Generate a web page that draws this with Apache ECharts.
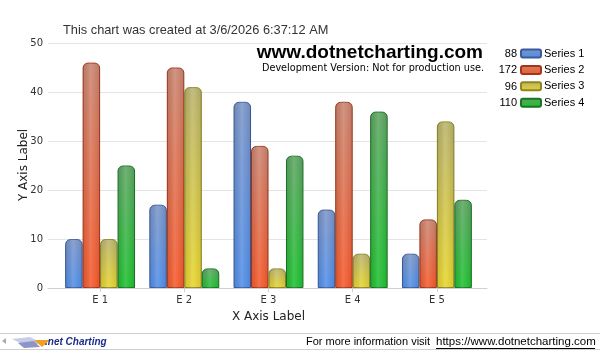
<!DOCTYPE html>
<html>
<head>
<meta charset="utf-8">
<script src="https://cdn.jsdelivr.net/npm/echarts@6/dist/echarts.min.js"></script>
<style>html,body{margin:0;padding:0;background:#fff}#c{width:600px;height:350px}</style>
</head>
<body>
<div id="c"></div>
<script>
var categories = ['E 1', 'E 2', 'E 3', 'E 4', 'E 5'];
var seriesNames = ['Series 1', 'Series 2', 'Series 3', 'Series 4'];
var series1 = [10, 17, 38, 16, 7];
var series2 = [46, 45, 29, 38, 14];
var series3 = [10, 41, 4, 7, 34];
var series4 = [25, 4, 27, 36, 18];
var yTicks = [0, 10, 20, 30, 40, 50];

var allData = [series1, series2, series3, series4];
var topColors = ['#7a94c6', '#c98470', '#b8b26c', '#5da462'];
var bottomColors = ['#4f8de8', '#f5582a', '#e6d42c', '#1cc02e'];
var borderColors = ['#3a5a9c', '#a3361a', '#8f8420', '#1b7424'];

function vgrad(i) {
  return new echarts.graphic.LinearGradient(0, 0, 0, 1, [
    {offset: 0, color: topColors[i]},
    {offset: 1, color: bottomColors[i]}
  ]);
}
var hgrad = new echarts.graphic.LinearGradient(0, 0, 1, 0, [
  {offset: 0, color: 'rgba(0,0,0,0.08)'},
  {offset: 0.45, color: 'rgba(255,255,255,0.14)'},
  {offset: 0.6, color: 'rgba(255,255,255,0.08)'},
  {offset: 1, color: 'rgba(0,0,0,0.08)'}
]);

var seriesList = [];
allData.forEach(function (d, i) {
  seriesList.push({
    name: seriesNames[i], type: 'bar', xAxisIndex: 1, yAxisIndex: 1, data: d,
    barGap: '0%', barCategoryGap: '17%',
    itemStyle: {color: vgrad(i), borderColor: borderColors[i], borderWidth: 1, borderRadius: [5, 5, 0, 0]},
    emphasis: {disabled: true}
  });
});
allData.forEach(function (d, i) {
  seriesList.push({
    name: seriesNames[i] + ' shade', type: 'bar', xAxisIndex: 2, yAxisIndex: 1, data: d,
    barGap: '0%', barCategoryGap: '17%', silent: true, z: 3,
    itemStyle: {color: hgrad, borderRadius: [5, 5, 0, 0]},
    emphasis: {disabled: true}
  });
});

var totals = allData.map(function (d) { return d.reduce(function (a, b) { return a + b; }, 0); });
var legendCenter0 = 54, legendPitch = 16.4;
var graphics = totals.map(function (t, i) {
  return {type: 'text', x: 517, y: legendCenter0 + i * legendPitch,
    style: {text: String(t), font: '11px "Liberation Sans", Arial', fill: '#000', align: 'right', verticalAlign: 'middle'}};
});
graphics.push(
  {type: 'text', x: 63, y: 30, style: {text: 'This chart was created at 3/6/2026 6:37:12 AM', font: '12.8px "Liberation Sans", Arial', fill: '#333', verticalAlign: 'middle'}},
  {type: 'text', x: 483, y: 53, style: {text: 'www.dotnetcharting.com', font: 'bold 19px "Liberation Sans", Arial', fill: '#000', align: 'right', verticalAlign: 'middle'}},
  {type: 'text', x: 484, y: 68.5, style: {text: 'Development Version: Not for production use.', font: '9.7px "DejaVu Sans"', fill: '#000', align: 'right', verticalAlign: 'middle'}},
  {type: 'text', x: 24, y: 165, rotation: Math.PI / 2, style: {text: 'Y Axis Label', font: '12px "DejaVu Sans"', fill: '#222', align: 'center', verticalAlign: 'middle'}},
  {type: 'line', shape: {x1: 0, y1: 333.5, x2: 600, y2: 333.5}, style: {stroke: '#cfcfcf', lineWidth: 1}},
  {type: 'line', shape: {x1: 0, y1: 349.5, x2: 600, y2: 349.5}, style: {stroke: '#cfcfcf', lineWidth: 1}},
  {type: 'polygon', shape: {points: [[2, 341], [6, 338], [6, 344]]}, style: {fill: '#aaa'}},
  {type: 'polygon', shape: {points: [[12, 339], [30, 337], [42, 343], [26, 346]]}, style: {fill: '#c8cce8'}},
  {type: 'polygon', shape: {points: [[18, 343], [34, 341], [40, 347], [24, 348]]}, style: {fill: '#8c94c8'}},
  {type: 'polygon', shape: {points: [[34, 340], [50, 340], [42, 347]]}, style: {fill: '#f0a020'}},
  {type: 'text', x: 45, y: 342, style: {text: '.net Charting', font: 'italic bold 10px "Liberation Sans", Arial', fill: '#1d2b8c', verticalAlign: 'middle'}},
  {type: 'text', x: 306, y: 341.5, style: {text: 'For more information visit', font: '11px "Liberation Sans", Arial', fill: '#000', verticalAlign: 'middle'}},
  {type: 'text', x: 436, y: 341.5, style: {text: 'https://www.dotnetcharting.com', font: '11.5px "Liberation Sans", Arial', fill: '#000', verticalAlign: 'middle'}},
  {type: 'line', shape: {x1: 436, y1: 348.5, x2: 595, y2: 348.5}, style: {stroke: '#000', lineWidth: 1}}
);

var option = {
  animation: false,
  backgroundColor: '#fff',
  grid: [
    {left: 48, right: 113, top: 43, bottom: 62},
    {left: 58, right: 121, top: 43, bottom: 62}
  ],
  legend: {
    orient: 'vertical', left: 515, top: 43, itemWidth: 20, itemHeight: 8, itemGap: 5.4,
    icon: 'roundRect', data: seriesNames,
    textStyle: {fontFamily: '"Liberation Sans", Arial', fontSize: 11, color: '#000', padding: [0, 0, 0, -2]}
  },
  xAxis: [
    {type: 'value', gridIndex: 0, min: 0, max: 1, axisLine: {show: true, lineStyle: {color: '#d0d0d0'}},
      axisTick: {show: false}, axisLabel: {show: false}, splitLine: {show: false}},
    {type: 'category', gridIndex: 1, data: categories, axisLine: {show: false},
      axisTick: {show: true, alignWithLabel: true, length: 4, lineStyle: {color: '#d0d0d0'}},
      axisLabel: {fontFamily: '"DejaVu Sans"', fontSize: 10, color: '#333', margin: 7},
      name: 'X Axis Label', nameLocation: 'middle', nameGap: 23,
      nameTextStyle: {fontFamily: '"DejaVu Sans"', fontSize: 12, color: '#222'}},
    {type: 'category', gridIndex: 1, data: categories, show: false}
  ],
  yAxis: [
    {type: 'value', gridIndex: 0, min: 0, max: 50, interval: 10,
      axisLine: {show: false}, axisTick: {show: false},
      axisLabel: {fontFamily: '"DejaVu Sans"', fontSize: 10, color: '#333', margin: 5,
        formatter: function (v) { return yTicks.indexOf(v) >= 0 ? String(v) : ''; }},
      splitLine: {lineStyle: {color: '#e4e4e4'}}},
    {type: 'value', gridIndex: 1, min: 0, max: 50, interval: 10, show: false, splitLine: {show: false}}
  ],
  graphic: graphics,
  series: seriesList
};
echarts.init(document.getElementById('c')).setOption(option);
</script>
</body>
</html>
